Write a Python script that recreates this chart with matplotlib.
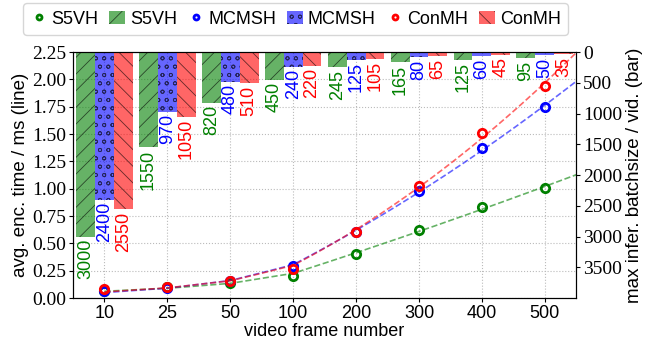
import matplotlib
matplotlib.use("Agg")
import matplotlib.pyplot as plt
import numpy as np

# data
frames = [10, 25, 50, 100, 200, 300, 400, 500]
methods = ["S5VH", "MCMSH", "ConMH"]
colors = ["green", "blue", "red"]
hatches = ["//", "oo", "\\\\"]

enc_s5vh = [0.067, 0.098, 0.14, 0.204, 0.40, 0.62, 0.835, 1.006]
enc_mcmsh = [0.065, 0.092, 0.155, 0.293, 0.606, 0.979, 1.37, 1.75]
enc_conmh = [0.08, 0.098, 0.155, 0.268, 0.606, 1.024, 1.51, 1.94]

bs_s5vh = [3000, 1550, 820, 450, 245, 165, 125, 95]
bs_mcmsh = [2400, 970, 480, 240, 125, 80, 60, 50]
bs_conmh = [2550, 1050, 510, 220, 105, 65, 45, 35]

enc = [enc_s5vh, enc_mcmsh, enc_conmh]
bs = [bs_s5vh, bs_mcmsh, bs_conmh]

plt.rcParams["font.family"] = "Liberation Sans"
plt.rcParams["hatch.linewidth"] = 0.6

fig = plt.figure(figsize=(6.46, 3.43), dpi=100)
ax = fig.add_axes([0.113, 0.131, 0.779, 0.717])
ax2 = ax.twinx()

idx = np.arange(len(frames))
w = 0.3

handles = []
for i, m in enumerate(methods):
    # trend line: quadratic fit over frame number, drawn on category positions
    coef = np.polyfit(frames, enc[i], 2)
    f_dense = np.linspace(frames[0], 550, 300)
    pos = np.interp(f_dense, frames, idx)
    pos[f_dense > 500] = 7 + (f_dense[f_dense > 500] - 500) / 100
    ax.plot(pos, np.polyval(coef, f_dense), "--", color=colors[i], alpha=0.6, lw=1.2)
    h1, = ax.plot(idx, enc[i], "o", mfc="none", mec=colors[i], mew=2, ms=6, label=m)

    b = ax2.bar(idx + (i - 1) * w, bs[i], w, color=colors[i], alpha=0.6,
                hatch=hatches[i], edgecolor="black", linewidth=0, label=m)
    for x, v in zip(idx + (i - 1) * w, bs[i]):
        ax2.text(x, v + 40, str(v), rotation=90, ha="center", va="top",
                 color=colors[i], fontsize=13)
    handles += [h1, b]

ax.set_xlim(-0.5, 7.5)
ax.set_ylim(0, 2.25)
ax.set_yticks(np.arange(0, 2.26, 0.25))
ax.set_xticks(idx)
ax.set_xticklabels([str(f) for f in frames], fontsize=13)
ax.grid(True, linestyle=":", color="#bbbbbb", lw=0.8)
ax.set_xlabel("video frame number", fontsize=13, labelpad=1)
ax.set_ylabel("avg. enc. time / ms (line)", fontsize=13.5, labelpad=2)

ax2.set_ylim(4000, 0)
ax2.set_yticks(np.arange(0, 3501, 500))
ax2.set_ylabel("max infer. batchsize / vid. (bar)", fontsize=13.5, labelpad=3)

for a in (ax, ax2):
    for lab in a.get_yticklabels():
        lab.set_family("Liberation Serif")
        lab.set_fontsize(14)
    a.tick_params(direction="out", length=3, pad=2)

fig.legend(handles=handles, loc="upper left", bbox_to_anchor=(0.036, 0.99),
           ncol=6, fontsize=13, handlelength=0.9, handletextpad=0.25,
           columnspacing=0.6, markerscale=0.6, borderaxespad=0,
           borderpad=0.4)

fig.savefig("out.png", dpi=100)
